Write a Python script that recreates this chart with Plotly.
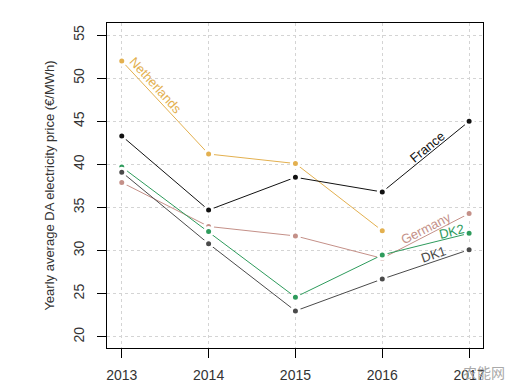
import plotly.graph_objects as go

years = [2013, 2014, 2015, 2016, 2017]
netherlands = [52.0, 41.2, 40.1, 32.3, None]
france = [43.3, 34.7, 38.5, 36.8, 45.0]
germany = [37.9, 32.8, 31.7, 29.1, 34.3]
dk2 = [39.7, 32.2, 24.6, 29.5, 32.0]
dk1 = [39.1, 30.8, 23.0, 26.7, 30.1]

series = [
    ("Netherlands", netherlands, "#E3B04F"),
    ("France", france, "#111111"),
    ("Germany", germany, "#C49088"),
    ("DK2", dk2, "#2E9B5C"),
    ("DK1", dk1, "#4A4A4A"),
]

# label placement: (x, y, angle)
labels = {
    "Netherlands": (2013.39, 49.1, 48),
    "France": (2016.51, 42.0, -39),
    "Germany": (2016.50, 32.6, -27),
    "DK2": (2016.80, 32.2, -14),
    "DK1": (2016.59, 29.5, -19),
}

fig = go.Figure()
for name, vals, col in series:
    fig.add_trace(go.Scatter(
        x=years, y=vals, mode="lines+markers", name=name,
        line=dict(color=col, width=1.0),
        marker=dict(color=col, size=8, line=dict(color="white", width=3)),
        connectgaps=False, showlegend=False,
    ))
    lx, ly, ang = labels[name]
    fig.add_annotation(x=lx, y=ly, text=name, showarrow=False, textangle=ang,
                       font=dict(family="Liberation Sans", size=13, color=col))

fig.add_annotation(xref="paper", yref="paper", x=1.003, y=-0.074, xanchor="center",
                   yanchor="middle", text="农能网", showarrow=False,
                   font=dict(family="Noto Sans CJK SC", size=14, color="#aaaaaa"))

fig.update_layout(
    width=516, height=383,
    margin=dict(l=99, r=41, t=15, b=43),
    paper_bgcolor="white", plot_bgcolor="white",
    font=dict(family="Liberation Sans", color="#333333"),
)
fig.update_xaxes(
    range=[2012.83, 2017.16], tickvals=years, ticktext=[str(y) for y in years],
    showgrid=True, gridcolor="#d4d4d4", griddash="3px,3px", gridwidth=0.8,
    showline=True, linecolor="black", linewidth=1.2, mirror=True,
    ticks="outside", ticklen=9, tickcolor="black", tickfont=dict(size=14, color="#333333"),
    ticklabelstandoff=5,
    zeroline=False, automargin=False,
)
fig.update_yaxes(
    range=[18.7, 56.4], tickvals=[20, 25, 30, 35, 40, 45, 50, 55], tickangle=-90,
    showgrid=True, gridcolor="#d4d4d4", griddash="3px,3px", gridwidth=0.8,
    showline=True, linecolor="black", linewidth=1.2, mirror=True,
    ticks="outside", ticklen=9, tickcolor="black", tickfont=dict(size=14, color="#333333"),
    ticklabelstandoff=7,
    zeroline=False, automargin=False,
    title=dict(text="Yearly average DA electricity price (€/MWh)", font=dict(size=13, color="#333333"), standoff=13),
)
fig.write_html("out.html")
